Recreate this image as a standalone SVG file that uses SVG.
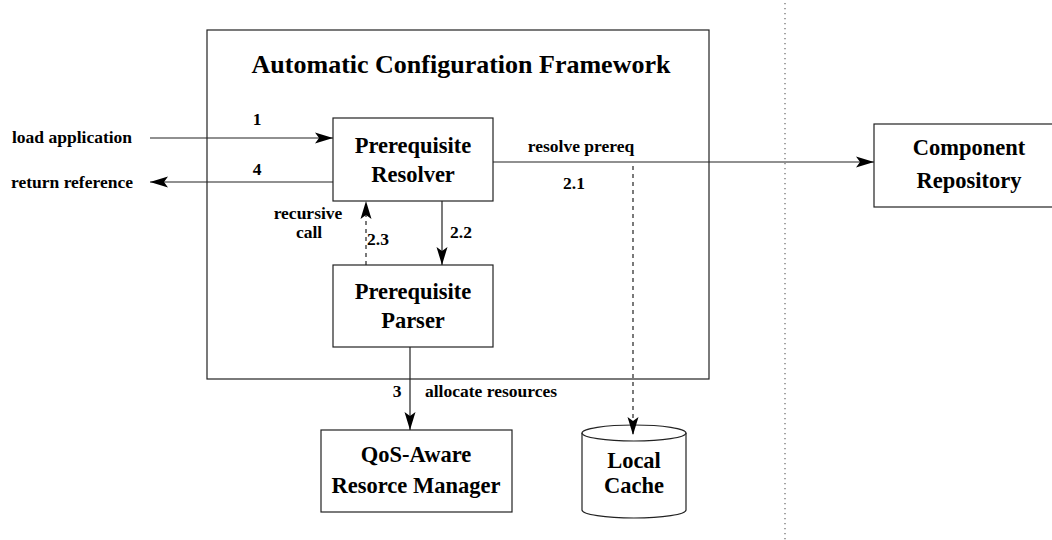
<svg xmlns="http://www.w3.org/2000/svg" width="1052" height="540" viewBox="0 0 1052 540">
  <style>
    .box { fill: #fff; stroke: #222; stroke-width: 1.2; }
    .ln { fill: none; stroke: #222; stroke-width: 1.2; }
    .dash { stroke-dasharray: 4 4; }
    .dot { fill: none; stroke: #666; stroke-width: 1.2; stroke-dasharray: 1.2 3.8; }
    .t { font-family: "Liberation Serif", "Times New Roman", serif; font-weight: bold; fill: #000; }
    .node { font-size: 22.5px; text-anchor: middle; }
    .lbl { font-size: 17.5px; }
    .mid { text-anchor: middle; }
  </style>
  <defs>
    <marker id="arr" markerUnits="userSpaceOnUse" markerWidth="22" markerHeight="14" viewBox="-20 -7 22 14" refX="0" refY="0" orient="auto">
      <path d="M0,0 L-18,-5.5 L-14,0 L-18,5.5 Z" fill="#000"/>
    </marker>
  </defs>

  <!-- boundary between local host and remote side -->
  <line class="dot" x1="785" y1="3" x2="785" y2="540"/>

  <g id="framework">
    <rect class="box" x="207" y="30" width="502" height="349" fill="none"/>
    <text class="t mid" x="461" y="73" font-size="26">Automatic Configuration Framework</text>
  </g>

  <g id="resolver">
    <rect class="box" x="333" y="118" width="160" height="83"/>
    <text class="t node" x="413" y="153">Prerequisite</text>
    <text class="t node" x="413" y="182">Resolver</text>
  </g>

  <g id="parser">
    <rect class="box" x="333" y="265" width="160" height="82"/>
    <text class="t node" x="413" y="299">Prerequisite</text>
    <text class="t node" x="413" y="328">Parser</text>
  </g>

  <g id="resource-manager">
    <rect class="box" x="321" y="430" width="191" height="82"/>
    <text class="t node" x="416" y="462">QoS-Aware</text>
    <text class="t node" x="416" y="493">Resorce Manager</text>
  </g>

  <g id="local-cache">
    <path class="box" d="M582,433 L582,510 A52,8 0 0 0 686,510 L686,433"/>
    <ellipse class="box" cx="634" cy="433" rx="52" ry="8"/>
    <text class="t node" x="634" y="468">Local</text>
    <text class="t node" x="634" y="493">Cache</text>
  </g>

  <g id="component-repository">
    <rect class="box" x="874" y="124" width="190" height="83"/>
    <text class="t node" x="969" y="155">Component</text>
    <text class="t node" x="969" y="188">Repository</text>
  </g>

  <g id="connectors">
    <!-- 1: load application -->
    <line class="ln" x1="150" y1="138" x2="333" y2="138" marker-end="url(#arr)"/>
    <!-- 4: return reference -->
    <line class="ln" x1="333" y1="182" x2="150" y2="182" marker-end="url(#arr)"/>
    <!-- 2.1: resolve prereq -->
    <line class="ln" x1="493" y1="162" x2="874" y2="162" marker-end="url(#arr)"/>
    <!-- cache lookup -->
    <line class="ln dash" x1="633" y1="166" x2="633" y2="435" marker-end="url(#arr)"/>
    <!-- 2.2: parse -->
    <line class="ln" x1="442" y1="201" x2="442" y2="265" marker-end="url(#arr)"/>
    <!-- 2.3: recursive call -->
    <line class="ln dash" x1="366" y1="265" x2="366" y2="201" marker-end="url(#arr)"/>
    <!-- 3: allocate resources -->
    <line class="ln" x1="410" y1="347" x2="410" y2="430" marker-end="url(#arr)"/>
  </g>

  <g id="labels">
    <text class="t lbl" x="12" y="143">load application</text>
    <text class="t lbl" x="11" y="188">return reference</text>
    <text class="t lbl mid" x="257" y="125">1</text>
    <text class="t lbl mid" x="257" y="175">4</text>
    <text class="t lbl mid" x="581" y="152">resolve prereq</text>
    <text class="t lbl mid" x="574" y="189">2.1</text>
    <text class="t lbl mid" x="308" y="219">recursive</text>
    <text class="t lbl mid" x="309" y="238">call</text>
    <text class="t lbl mid" x="378" y="245">2.3</text>
    <text class="t lbl mid" x="461" y="238">2.2</text>
    <text class="t lbl mid" x="397" y="397">3</text>
    <text class="t lbl" x="425" y="397">allocate resources</text>
  </g>
</svg>
